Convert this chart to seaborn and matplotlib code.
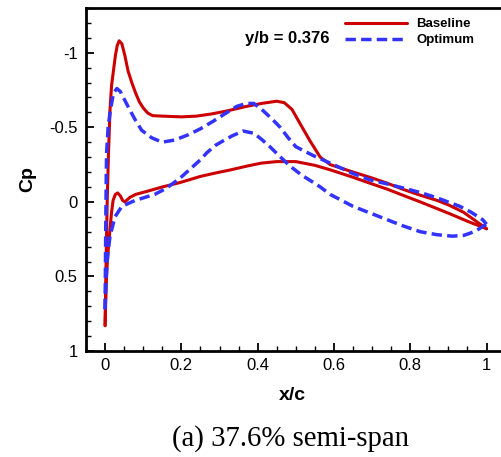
import numpy as np
import pandas as pd
import matplotlib
matplotlib.use("Agg")
import matplotlib.pyplot as plt
import seaborn as sns
from matplotlib.lines import Line2D
from matplotlib.ticker import MultipleLocator, FuncFormatter

# Baseline, upper (suction) surface
base_up_x = [0.0, 0.002, 0.004, 0.006, 0.009, 0.013, 0.017, 0.022, 0.027, 0.032, 0.037,
             0.044, 0.052, 0.060, 0.070, 0.080, 0.090, 0.100, 0.112, 0.125, 0.15, 0.20,
             0.24, 0.28, 0.32, 0.37, 0.41, 0.45, 0.47, 0.49, 0.51, 0.537, 0.564, 0.59,
             0.62, 0.65, 0.70, 0.74, 0.78, 0.826, 0.87, 0.90, 0.94, 0.97, 1.0]
base_up_cp = [0.83, 0.5, 0.2, -0.05, -0.33, -0.62, -0.78, -0.88, -0.98, -1.05, -1.08,
              -1.06, -0.98, -0.88, -0.80, -0.73, -0.67, -0.63, -0.595, -0.578, -0.575, -0.57,
              -0.575, -0.59, -0.61, -0.64, -0.66, -0.675, -0.665, -0.62, -0.53, -0.41, -0.30, -0.25,
              -0.225, -0.20, -0.16, -0.125, -0.085, -0.045, -0.01, 0.02, 0.07, 0.125, 0.18]

# Baseline, lower (pressure) surface
base_lo_x = [0.0, 0.003, 0.006, 0.009, 0.013, 0.017, 0.021, 0.027, 0.033, 0.040, 0.046,
             0.052, 0.065, 0.08, 0.109, 0.15, 0.197, 0.249, 0.283, 0.33, 0.372, 0.41,
             0.45, 0.50, 0.55, 0.59, 0.65, 0.70, 0.74, 0.78, 0.826, 0.87, 0.904, 0.95, 1.0]
base_lo_cp = [0.83, 0.55, 0.40, 0.30, 0.18, 0.07, -0.01, -0.05, -0.06, -0.04, -0.01,
              0.0, -0.03, -0.05, -0.07, -0.10, -0.13, -0.17, -0.19, -0.215, -0.24, -0.26,
              -0.27, -0.27, -0.245, -0.215, -0.165, -0.12, -0.085, -0.045, 0.0, 0.045, 0.08, 0.13, 0.18]

# Optimum, upper surface
opt_up_x = [0.0, 0.001, 0.002, 0.003, 0.004, 0.008, 0.013, 0.022, 0.031, 0.040, 0.048,
            0.060, 0.079, 0.096, 0.122, 0.149, 0.183, 0.218, 0.25, 0.283, 0.32, 0.345,
            0.37, 0.39, 0.415, 0.44, 0.459, 0.48, 0.50, 0.546, 0.59, 0.65, 0.695, 0.74,
            0.78, 0.83, 0.87, 0.93, 0.96, 0.99, 1.0]
opt_up_cp = [0.72, 0.4, 0.1, -0.15, -0.33, -0.5, -0.60, -0.73, -0.76, -0.74, -0.70,
             -0.64, -0.55, -0.48, -0.43, -0.40, -0.415, -0.45, -0.49, -0.54, -0.60, -0.64,
             -0.66, -0.66, -0.61, -0.55, -0.50, -0.43, -0.37, -0.31, -0.26, -0.19, -0.147, -0.12,
             -0.094, -0.06, -0.027, 0.03, 0.07, 0.12, 0.15]

# Optimum, lower surface
opt_lo_x = [0.0, 0.003, 0.007, 0.013, 0.026, 0.044, 0.079, 0.13, 0.16, 0.197, 0.223,
            0.249, 0.267, 0.29, 0.31, 0.335, 0.362, 0.39, 0.41, 0.432, 0.46, 0.485,
            0.515, 0.546, 0.564, 0.59, 0.62, 0.65, 0.70, 0.74, 0.78, 0.826, 0.87, 0.91,
            0.94, 0.957, 0.975, 0.99, 1.0]
opt_lo_cp = [0.72, 0.5, 0.35, 0.23, 0.10, 0.03, -0.01, -0.05, -0.09, -0.16, -0.22,
             -0.28, -0.33, -0.38, -0.41, -0.445, -0.475, -0.46, -0.42, -0.37, -0.30, -0.24,
             -0.18, -0.13, -0.10, -0.05, -0.01, 0.03, 0.08, 0.12, 0.16, 0.20, 0.22, 0.23,
             0.225, 0.21, 0.19, 0.165, 0.15]

cases = ["Baseline", "Optimum"]
colors = {"Baseline": "#CC0000", "Optimum": "#3333FF"}

frames = []
for case, surf, xs, cps in [
    ("Baseline", "upper", base_up_x, base_up_cp),
    ("Baseline", "lower", base_lo_x, base_lo_cp),
    ("Optimum", "upper", opt_up_x, opt_up_cp),
    ("Optimum", "lower", opt_lo_x, opt_lo_cp),
]:
    frames.append(pd.DataFrame({"x": xs, "cp": cps, "case": case, "surface": case + surf}))
df = pd.concat(frames, ignore_index=True)

sns.set_style("ticks")
plt.rcParams["font.family"] = ["Liberation Sans", "DejaVu Sans"]
plt.rcParams["axes.unicode_minus"] = False
plt.rcParams["text.color"] = "black"
plt.rcParams["axes.labelcolor"] = "black"

fig = plt.figure(figsize=(5.01, 4.57), dpi=100)
ax = fig.add_axes([86 / 501, 106 / 457, 419.6 / 501, 343 / 457])

sns.lineplot(data=df, x="x", y="cp", hue="case", style="case", units="surface",
             estimator=None, sort=False, palette=colors,
             dashes={"Baseline": "", "Optimum": (3, 1.5)}, legend=False, ax=ax)
for ln in ax.lines:
    if matplotlib.colors.to_hex(ln.get_color()).lower() == "#cc0000":
        ln.set_linewidth(2.2)
    else:
        ln.set_linewidth(2.5)
        ln.set_zorder(3)

ax.set_xlim(-0.05, 1.05)
ax.set_ylim(1.0, -1.3)
ax.xaxis.set_major_locator(MultipleLocator(0.2))
ax.xaxis.set_minor_locator(MultipleLocator(0.05))
ax.yaxis.set_major_locator(MultipleLocator(0.5))
ax.yaxis.set_minor_locator(MultipleLocator(0.1))
fmt = FuncFormatter(lambda v, p: "%g" % round(v, 3))
ax.xaxis.set_major_formatter(fmt)
ax.yaxis.set_major_formatter(fmt)
ax.tick_params(which="major", direction="in", length=6, width=1.3, labelsize=12,
               colors="black", labelcolor="black")
ax.tick_params(which="minor", direction="in", length=3.5, width=1.0, colors="black")
ax.tick_params(axis="x", pad=5)
ax.tick_params(axis="y", pad=6)
for s in ["left", "bottom", "top"]:
    ax.spines[s].set_linewidth(2.0)
    ax.spines[s].set_color("black")
ax.spines["right"].set_visible(False)

ax.set_xlabel("x/c", fontsize=14, fontweight="bold", color="black")
ax.xaxis.set_label_coords(0.493, -0.105)
ax.set_ylabel("Cp", fontsize=14, fontweight="bold", labelpad=9, color="black")

ax.text(245, 457 - 38, "y/b = 0.376", transform=None, fontsize=12, fontweight="bold",
        ha="left", va="center", color="black")
handles = [Line2D([], [], color=colors["Baseline"], lw=2.2),
           Line2D([], [], color=colors["Optimum"], lw=2.5, dashes=(3, 1.5))]
ax.legend(handles, cases, loc="upper left", bbox_to_anchor=(345 / 501, 1 - 18 / 457),
          bbox_transform=fig.transFigure, frameon=False, borderpad=0, borderaxespad=0,
          handlelength=4.7, handletextpad=0.7, labelspacing=0.3,
          prop={"weight": "bold", "size": 9.5}, labelcolor="black")

fig.text(291 / 501, 11 / 457, "(a) 37.6% semi-span", ha="center", va="baseline",
         fontsize=20.7, family=["Liberation Serif", "DejaVu Serif"], color="black")

fig.savefig("out.png", dpi=100)
